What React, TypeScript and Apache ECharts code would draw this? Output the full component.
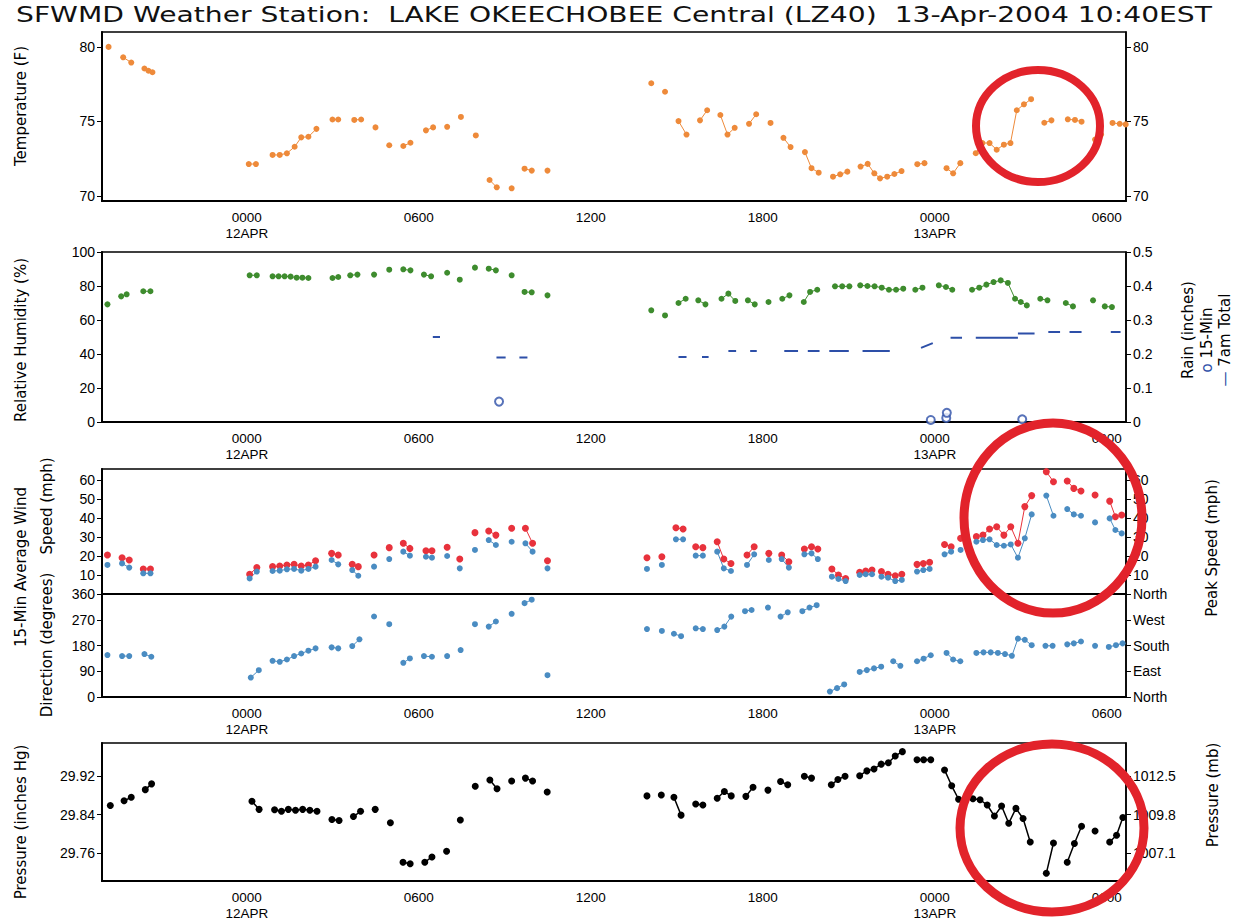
import React, { useEffect, useRef } from "react";
import * as echarts from "echarts";

// ---------- axis definitions ----------
const X_MIN = -5.05; // hours relative to 12APR 0000
const X_MAX = 30.67;
const xTickHours = [0, 6, 12, 18, 24, 30];
const xTickLabels = ["0000\n12APR", "0600", "1200", "1800", "0000\n13APR", "0600"];
const tempTicks = [70, 75, 80];
const pressureTicks = [29.76, 29.84, 29.92];
const pressureMbLabels = ["1007.1", "1009.8", "1012.5"];
const directionNames = ["North", "East", "South", "West", "North"];

const titleText = "SFWMD Weather Station:  LAKE OKEECHOBEE Central (LZ40)  13-Apr-2004 10:40EST";

// ---------- data: [hour, value] ----------
const temperature = [
  [-4.82, 80.0], [-4.31, 79.3], [-4.03, 78.95], [-3.57, 78.55], [-3.43, 78.4], [-3.29, 78.3],
  [0.07, 72.14], [0.32, 72.14], [0.9, 72.75], [1.15, 72.75], [1.4, 72.86], [1.67, 73.3], [1.9, 73.93], [2.15, 73.97], [2.43, 74.5],
  [2.99, 75.13], [3.19, 75.13], [3.75, 75.1], [3.99, 75.13], [4.49, 74.6], [4.97, 73.4], [5.46, 73.35], [5.71, 73.57],
  [6.25, 74.4], [6.5, 74.6], [6.99, 74.64], [7.47, 75.3], [7.99, 74.06], [8.47, 71.07], [8.72, 70.58], [9.24, 70.51],
  [9.69, 71.83], [9.94, 71.7], [10.49, 71.7],
  [14.11, 77.56], [14.59, 76.99], [15.06, 75.02], [15.34, 74.12], [15.81, 75.07], [16.06, 75.75], [16.52, 75.43], [16.77, 74.12],
  [17.02, 74.57], [17.52, 74.84], [17.77, 75.48], [18.27, 74.9], [18.72, 73.9], [18.97, 73.28], [19.47, 72.94], [19.7, 71.86],
  [19.95, 71.56], [20.45, 71.29], [20.7, 71.45], [20.95, 71.63], [21.41, 71.97], [21.66, 72.15], [21.89, 71.52], [22.09, 71.18],
  [22.34, 71.29], [22.59, 71.47], [22.84, 71.67], [23.39, 72.13], [23.64, 72.2], [24.41, 71.86], [24.64, 71.52], [24.89, 72.2],
  [25.43, 72.87], [25.66, 73.55], [25.91, 73.55], [26.16, 73.1], [26.41, 73.44], [26.64, 73.55], [26.86, 75.75], [27.11, 76.15],
  [27.36, 76.49], [27.82, 74.91], [28.07, 75.07], [28.64, 75.14], [28.89, 75.1], [29.12, 74.98], [29.59, 73.78], [29.8, 74.12],
  [30.2, 74.9], [30.45, 74.84], [30.66, 74.8],
];

const humidity = [
  [-4.86, 69.2], [-4.38, 73.9], [-4.19, 75.1], [-3.61, 76.9], [-3.36, 76.9],
  [0.1, 86.3], [0.35, 86.3], [0.9, 85.7], [1.11, 85.7], [1.32, 85.7], [1.53, 85.5], [1.74, 84.9], [1.94, 84.9], [2.15, 84.7],
  [2.99, 84.7], [3.19, 85.3], [3.61, 86.3], [3.86, 86.7], [4.44, 86.7], [4.97, 89.6], [5.46, 89.8], [5.71, 89.2],
  [6.18, 86.7], [6.43, 85.7], [6.99, 87.8], [7.43, 83.7], [7.96, 90.8], [8.44, 90.2], [8.69, 89.2], [9.24, 86.3],
  [9.69, 76.5], [9.94, 76.3], [10.49, 74.5],
  [14.11, 65.7], [14.59, 62.7], [15.06, 70], [15.31, 72.5], [15.75, 71.6], [16.0, 69.2], [16.56, 72.5], [16.8, 75.5],
  [17.04, 71.2], [17.48, 71.6], [17.72, 69.2], [18.2, 70.6], [18.68, 72.5], [18.93, 74.5], [19.43, 70.6], [19.65, 76.5],
  [19.9, 77.8], [20.52, 79.8], [20.77, 79.8], [21.02, 79.8], [21.4, 80.4], [21.65, 80.0], [21.9, 79.8], [22.15, 79.0],
  [22.4, 77.8], [22.65, 77.8], [22.9, 78.4], [23.32, 77.8], [23.57, 79.0], [24.14, 80.4], [24.39, 79.4], [24.61, 77.8],
  [25.3, 77.8], [25.55, 79.0], [25.8, 80.8], [26.05, 82.3], [26.3, 83.3], [26.55, 81.8], [26.8, 72.5], [27.0, 70.6],
  [27.21, 68.6], [27.68, 72.5], [27.93, 71.6], [28.57, 70.0], [28.82, 68.0], [29.52, 71.6], [29.93, 68.0], [30.18, 67.6],
];

// 7am rain total dashes: [start hour, end hour, start value, end value]
const rainTotalDashes = [
  [6.49, 6.74, 0.25, 0.25], [8.71, 9.03, 0.19, 0.19], [9.51, 9.79, 0.19, 0.19],
  [15.06, 15.34, 0.191, 0.191], [15.88, 16.11, 0.191, 0.191], [16.8, 17.07, 0.209, 0.209], [17.56, 17.79, 0.209, 0.209],
  [18.75, 19.23, 0.209, 0.209], [19.57, 19.98, 0.209, 0.209], [20.32, 21.0, 0.209, 0.209], [21.48, 22.43, 0.209, 0.209],
  [23.52, 23.93, 0.218, 0.232], [24.55, 24.95, 0.248, 0.248], [25.43, 26.9, 0.248, 0.248], [26.9, 27.48, 0.26, 0.26],
  [27.96, 28.37, 0.265, 0.265], [28.7, 29.12, 0.265, 0.265], [30.14, 30.48, 0.265, 0.265],
];
const rain15Min = [[8.8, 0.06], [23.86, 0.006], [24.4, 0.012], [24.42, 0.027], [27.05, 0.008]];

const peakSpeed = [
  [-4.86, 20.5], [-4.35, 19.1], [-4.1, 17.9], [-3.61, 13.2], [-3.36, 13.2],
  [0.1, 10.4], [0.35, 13.9], [0.9, 14.4], [1.15, 14.7], [1.4, 15.3], [1.65, 15.6], [1.9, 14.7], [2.15, 15.3], [2.4, 17.5],
  [2.96, 21.4], [3.19, 20.5], [3.68, 15.6], [3.89, 14.4], [4.44, 20.5], [4.97, 24.4], [5.46, 26.7], [5.69, 24.0],
  [6.25, 22.8], [6.46, 22.8], [6.99, 24.6], [7.43, 18.4], [7.96, 32.3], [8.44, 33.2], [8.69, 31.0], [9.24, 34.6],
  [9.72, 34.6], [9.97, 26.7], [10.49, 17.5],
  [13.96, 19.1], [14.48, 19.6], [14.97, 34.9], [15.22, 34.2], [15.66, 24.9], [15.91, 24.4], [16.41, 27.5], [16.64, 18.4],
  [16.89, 16.1], [17.45, 20.5], [17.7, 24.9], [18.21, 21.4], [18.66, 20.5], [18.91, 17.0], [19.45, 23.7], [19.7, 24.9],
  [19.92, 23.7], [20.41, 13.2], [20.64, 10.0], [20.89, 8.2], [21.38, 11.4], [21.59, 12.1], [21.81, 12.6], [22.14, 11.8],
  [22.37, 10.4], [22.62, 9.6], [22.85, 10.4], [23.38, 15.6], [23.6, 16.1], [23.82, 16.7], [24.34, 26.1], [24.57, 24.9],
  [24.9, 29.3], [25.45, 30.2], [25.68, 31.0], [25.91, 34.2], [26.16, 35.4], [26.41, 31.0], [26.65, 35.4], [26.9, 26.7],
  [27.14, 46.0], [27.38, 51.8], [27.89, 64.4], [28.14, 59.1], [28.62, 59.5], [28.85, 55.6], [29.1, 54.2], [29.59, 52.1],
  [30.1, 48.9], [30.3, 40.7], [30.52, 41.6],
];
const avgSpeed = [
  [-4.86, 15.3], [-4.35, 16.1], [-4.1, 13.9], [-3.61, 10.9], [-3.36, 10.9],
  [0.1, 8.2], [0.35, 11.8], [0.9, 12.1], [1.15, 12.3], [1.4, 13.0], [1.65, 13.2], [1.9, 12.3], [2.15, 13.2], [2.4, 14.4],
  [2.96, 17.9], [3.19, 15.6], [3.68, 12.6], [3.89, 9.6], [4.44, 14.4], [4.97, 18.4], [5.46, 22.3], [5.69, 20.2],
  [6.25, 19.6], [6.46, 19.1], [6.99, 20.0], [7.43, 13.5], [7.96, 23.2], [8.44, 28.4], [8.69, 25.8], [9.24, 27.5],
  [9.72, 26.7], [9.97, 22.3], [10.49, 13.5],
  [13.96, 13.2], [14.48, 15.3], [14.97, 28.8], [15.22, 28.8], [15.66, 20.2], [15.91, 20.2], [16.41, 22.3], [16.64, 13.5],
  [16.89, 12.1], [17.45, 15.3], [17.7, 20.9], [18.21, 17.9], [18.66, 18.4], [18.91, 13.9], [19.45, 20.9], [19.7, 21.4],
  [19.92, 18.4], [20.41, 9.1], [20.64, 7.9], [20.89, 6.8], [21.38, 10.0], [21.59, 10.4], [21.81, 10.4], [22.14, 9.1],
  [22.37, 8.6], [22.62, 6.8], [22.85, 7.4], [23.38, 11.8], [23.6, 12.6], [23.82, 13.2], [24.34, 20.9], [24.57, 22.3],
  [24.9, 23.2], [25.45, 27.5], [25.68, 28.4], [25.91, 28.8], [26.16, 25.8], [26.41, 25.4], [26.65, 26.1], [26.9, 19.1],
  [27.14, 29.3], [27.38, 41.9], [27.89, 51.8], [28.14, 41.2], [28.62, 44.7], [28.85, 41.9], [29.1, 41.2], [29.59, 37.7],
  [30.1, 39.8], [30.3, 33.7], [30.52, 31.9],
];

const windDirection = [
  [-4.86, 146.5], [-4.35, 143], [-4.1, 143], [-3.57, 150], [-3.33, 140.7],
  [0.14, 68], [0.42, 93.8], [0.9, 126.6], [1.15, 123], [1.4, 131], [1.65, 143], [1.9, 152], [2.15, 161.8], [2.4, 170],
  [2.96, 173.5], [3.19, 170], [3.68, 178], [3.93, 201.6], [4.44, 281.4], [4.97, 254.4], [5.46, 119.6], [5.69, 134.8],
  [6.18, 143], [6.46, 140.7], [6.99, 143], [7.46, 164], [7.96, 254.4], [8.44, 246], [8.69, 263.8], [9.24, 290.7],
  [9.69, 328], [9.94, 340], [10.49, 76.2],
  [13.96, 237.5], [14.48, 231], [14.9, 221], [15.15, 212.5], [15.66, 240], [15.91, 237.5], [16.41, 234], [16.66, 246],
  [16.9, 281], [17.38, 300], [17.61, 304], [18.18, 312.5], [18.62, 281], [18.87, 296], [19.38, 300], [19.63, 312.5],
  [19.88, 321], [20.34, 19], [20.59, 31], [20.84, 44], [21.38, 87.5], [21.63, 94], [21.88, 100], [22.13, 106],
  [22.55, 125], [22.8, 109], [23.38, 125], [23.61, 134], [23.86, 146], [24.41, 154], [24.64, 131], [24.89, 125],
  [25.45, 154], [25.7, 156], [25.95, 156], [26.2, 154], [26.45, 150], [26.69, 144], [26.9, 204], [27.14, 200],
  [27.38, 181], [27.86, 179], [28.11, 179], [28.62, 184], [28.85, 187.5], [29.1, 194], [29.59, 179], [30.07, 175],
  [30.32, 181], [30.55, 187.5],
];

const pressure = [
  [-4.76, 29.859], [-4.28, 29.869], [-4.03, 29.876], [-3.54, 29.892], [-3.32, 29.904],
  [0.18, 29.868], [0.43, 29.851], [0.97, 29.85], [1.21, 29.847], [1.45, 29.851], [1.7, 29.849], [1.95, 29.851],
  [2.2, 29.849], [2.45, 29.847], [2.97, 29.83], [3.22, 29.828], [3.72, 29.836], [3.97, 29.847], [4.48, 29.851],
  [5.01, 29.823], [5.45, 29.741], [5.7, 29.738], [6.21, 29.741], [6.46, 29.752], [6.97, 29.764], [7.45, 29.829],
  [7.97, 29.899], [8.48, 29.912], [8.73, 29.894], [9.24, 29.91], [9.72, 29.916], [9.97, 29.91], [10.48, 29.887],
  [13.96, 29.879], [14.46, 29.881], [14.9, 29.876], [15.15, 29.839], [15.66, 29.862], [15.91, 29.86], [16.41, 29.874],
  [16.66, 29.888], [16.9, 29.879], [17.41, 29.878], [17.66, 29.897], [18.18, 29.891], [18.62, 29.909], [18.87, 29.902],
  [19.45, 29.92], [19.7, 29.916], [20.39, 29.902], [20.62, 29.913], [20.87, 29.92], [21.38, 29.921], [21.63, 29.931],
  [21.88, 29.935], [22.13, 29.945], [22.38, 29.948], [22.62, 29.962], [22.87, 29.971], [23.38, 29.954], [23.61, 29.954],
  [23.86, 29.954], [24.34, 29.933], [24.59, 29.9], [24.83, 29.872], [25.08, 29.871], [25.33, 29.873], [25.58, 29.871],
  [25.83, 29.86], [26.08, 29.837], [26.33, 29.858], [26.58, 29.822], [26.83, 29.853], [27.08, 29.832], [27.33, 29.783],
  [27.89, 29.718], [28.14, 29.781], [28.62, 29.741], [28.87, 29.78], [29.12, 29.816], [29.59, 29.806], [30.1, 29.783],
  [30.34, 29.797], [30.56, 29.834],
];

// ---------- helpers ----------
const withGaps = (data: number[][], maxGap = 0.3) => {
  const out: any[] = [];
  data.forEach((p, i) => {
    if (i > 0 && p[0] - data[i - 1][0] > maxGap) out.push([(p[0] + data[i - 1][0]) / 2, null]);
    out.push(p);
  });
  return out;
};
const dashLine = (segs: number[][]) => {
  const out: any[] = [];
  segs.forEach((s) => {
    out.push([s[0], s[2]], [s[1], s[3]], [s[1] + 0.01, null]);
  });
  return out;
};

const LABEL_FONT = "Liberation Sans";
const NAME_FONT = "DejaVu Sans";
const TITLE_SIZE = 21;
const TITLE_LEFT = 16;
const TITLE_RIGHT = 1212;
const labelStyle = { fontFamily: LABEL_FONT, fontSize: 14, color: "#000" };

const GRIDS = [
  { top: 32, height: 169 },
  { top: 252, height: 170 },
  { top: 469, height: 125 },
  { top: 594, height: 103 },
  { top: 743, height: 138 },
];

export default function App() {
  const ref = useRef<HTMLDivElement>(null);
  useEffect(() => {
    if (!ref.current) return;
    const chart = echarts.init(ref.current, undefined, { renderer: "svg" });

    // lay out the title words with one uniform horizontal stretch
    const ctx = document.createElement("canvas").getContext("2d")!;
    ctx.font = `${TITLE_SIZE}px "${NAME_FONT}"`;
    const natural = ctx.measureText(titleText).width || 900;
    const stretch = (TITLE_RIGHT - TITLE_LEFT) / natural;
    const titleItems: any[] = [];
    const re = /\S+/g;
    let m: RegExpExecArray | null;
    while ((m = re.exec(titleText))) {
      const prefixW = ctx.measureText(titleText.slice(0, m.index)).width;
      titleItems.push({
        type: "text", x: TITLE_LEFT + prefixW * stretch, y: 15, scaleX: stretch, scaleY: 1,
        style: { text: m[0], fontFamily: NAME_FONT, fontSize: TITLE_SIZE, fill: "#111", align: "left", verticalAlign: "middle" },
      });
    }

    const xLabel = (v: number) => {
      const i = xTickHours.findIndex((h) => Math.abs(h - v) < 1e-6);
      return i >= 0 ? xTickLabels[i] : "";
    };

    const grid = GRIDS.map((g) => ({
      left: 102, right: 119, top: g.top, height: g.height,
      show: true, borderColor: "#000", borderWidth: 1.5, backgroundColor: "transparent",
      containLabel: false, outerBoundsMode: "none",
    }));

    const xAxis = GRIDS.map((_, i) => ({
      type: "value", gridIndex: i, min: X_MIN, max: X_MAX,
      axisLine: { show: true, onZero: false, lineStyle: { color: "#000", width: 2.2 } },
      axisTick: { show: false },
      splitLine: { show: false },
      axisLabel: {
        show: i !== 2, customValues: xTickHours, formatter: xLabel, margin: 8, lineHeight: 16,
        ...labelStyle, fontSize: 13.5,
      },
    }));

    const yBase = (gridIndex: number, position: string) => ({
      type: "value", gridIndex, position,
      axisLine: { show: true, onZero: false, lineStyle: { color: "#000", width: position === "left" ? 2 : 1.5 } },
      axisTick: { show: true, inside: false, length: 5, lineStyle: { color: "#000" } },
      splitLine: { show: false },
    });

    const yAxis: any[] = [
      { ...yBase(0, "left"), min: 69.66, max: 81.0, axisTick: { ...yBase(0, "left").axisTick, customValues: tempTicks },
        axisLabel: { customValues: tempTicks, margin: 7, ...labelStyle } },
      { ...yBase(0, "right"), min: 69.66, max: 81.0, axisTick: { ...yBase(0, "right").axisTick, customValues: tempTicks },
        axisLabel: { customValues: tempTicks, margin: 7, ...labelStyle } },
      { ...yBase(1, "left"), min: 0, max: 100, interval: 20, axisLabel: { margin: 7, ...labelStyle } },
      { ...yBase(1, "right"), min: 0, max: 0.5, interval: 0.1,
        axisLabel: { margin: 7, ...labelStyle, formatter: (v: number) => (v === 0 ? "0" : v.toFixed(1)) } },
      { ...yBase(2, "left"), min: 0, max: 65.8, interval: 10,
        axisLabel: { margin: 7, ...labelStyle, formatter: (v: number) => (v === 0 ? "" : String(v)) } },
      { ...yBase(2, "right"), min: 0, max: 65.8, interval: 10,
        axisLabel: { margin: 7, ...labelStyle, formatter: (v: number) => (v === 0 ? "" : String(v)) } },
      { ...yBase(3, "left"), min: 0, max: 360, interval: 90, axisLabel: { margin: 7, ...labelStyle } },
      { ...yBase(3, "right"), min: 0, max: 360, interval: 90,
        axisLabel: { margin: 7, ...labelStyle, formatter: (v: number) => directionNames[Math.round(v / 90)] } },
      { ...yBase(4, "left"), min: 29.702, max: 29.989, axisTick: { ...yBase(4, "left").axisTick, customValues: pressureTicks },
        axisLabel: { customValues: pressureTicks, margin: 7, ...labelStyle, formatter: (v: number) => v.toFixed(2) } },
      { ...yBase(4, "right"), min: 29.702, max: 29.989, axisTick: { ...yBase(4, "right").axisTick, customValues: pressureTicks },
        axisLabel: { customValues: pressureTicks, margin: 7, ...labelStyle,
          formatter: (v: number) => {
            const i = pressureTicks.findIndex((t) => Math.abs(t - v) < 1e-4);
            return i >= 0 ? pressureMbLabels[i] : "";
          } } },
    ];

    const ptSeries = (name: string, data: number[][], xi: number, yi: number, color: string, size = 6, lw = 1) => ({
      name, type: "line", xAxisIndex: xi, yAxisIndex: yi, data: withGaps(data),
      symbol: "circle", symbolSize: size, showSymbol: true, connectNulls: false,
      lineStyle: { color, width: lw }, itemStyle: { color }, z: 3,
    });

    const rot = Math.PI / 2;
    const vText = (text: string, x: number, y: number, size = 15, extra: any = {}) => ({
      type: "text", x, y, rotation: rot,
      style: { text, fontFamily: NAME_FONT, fontSize: size, fill: "#000", align: "center", verticalAlign: "middle", ...extra },
    });

    const graphic: any[] = [
      ...titleItems,
      vText("Temperature (F)", 21, 106),
      vText("Relative Humidity (%)", 21, 340),
      vText("15-Min Average Wind", 21, 567),
      vText("Speed (mph)", 47, 506),
      vText("Direction (degrees)", 47, 645),
      vText("Pressure (inches Hg)", 21, 822),
      vText("Rain (inches)", 1188, 330),
      {
        type: "text", x: 1207, y: 340, rotation: rot,
        style: {
          text: "{b|o} 15-Min", fontFamily: NAME_FONT, fontSize: 15, fill: "#000", align: "center", verticalAlign: "middle",
          rich: { b: { fill: "#2D4FA8", fontSize: 15, fontFamily: NAME_FONT } },
        },
      },
      {
        type: "text", x: 1225, y: 340, rotation: rot,
        style: {
          text: "{b|—} 7am Total", fontFamily: NAME_FONT, fontSize: 15, fill: "#000", align: "center", verticalAlign: "middle",
          rich: { b: { fill: "#2D4FA8", fontSize: 15, fontFamily: NAME_FONT } },
        },
      },
      vText("Peak Speed (mph)", 1212, 548),
      vText("Pressure (mb)", 1213, 795),
      // hand-drawn red annotation circles
      { type: "ellipse", z: 100, shape: { cx: 1038, cy: 126, rx: 62, ry: 56 },
        style: { fill: "none", stroke: "#E2232B", lineWidth: 8 } },
      { type: "ellipse", z: 100, shape: { cx: 1053, cy: 518, rx: 89, ry: 95 },
        style: { fill: "none", stroke: "#E2232B", lineWidth: 9 } },
      { type: "ellipse", z: 100, shape: { cx: 1052, cy: 828, rx: 92, ry: 84 },
        style: { fill: "none", stroke: "#E2232B", lineWidth: 9 } },
    ];

    chart.setOption({
      animation: false,
      backgroundColor: "#fff",
      grid, xAxis, yAxis, graphic,
      series: [
        ptSeries("Temperature", temperature, 0, 0, "#EE8A3A", 6),
        ptSeries("Relative Humidity", humidity, 1, 2, "#3E8C2E", 6),
        {
          name: "7am Total", type: "line", xAxisIndex: 1, yAxisIndex: 3, data: dashLine(rainTotalDashes),
          symbol: "none", connectNulls: false, lineStyle: { color: "#2D4FA8", width: 2 }, z: 3,
        },
        {
          name: "15-Min", type: "scatter", xAxisIndex: 1, yAxisIndex: 3, data: rain15Min,
          symbol: "emptyCircle", symbolSize: 8, itemStyle: { color: "#2D4FA8", borderWidth: 1.5 }, z: 4,
        },
        ptSeries("Peak Speed", peakSpeed, 2, 4, "#E8323C", 7),
        ptSeries("Average Speed", avgSpeed, 2, 4, "#4A8CC2", 6),
        ptSeries("Direction", windDirection, 3, 6, "#4A8CC2", 6),
        ptSeries("Pressure", pressure, 4, 8, "#000", 7, 1.5),
      ],
    });
    return () => chart.dispose();
  }, []);
  return <div ref={ref} style={{ position: "absolute", left: 0, top: 0, width: 1245, height: 920, background: "#fff" }} />;
}
